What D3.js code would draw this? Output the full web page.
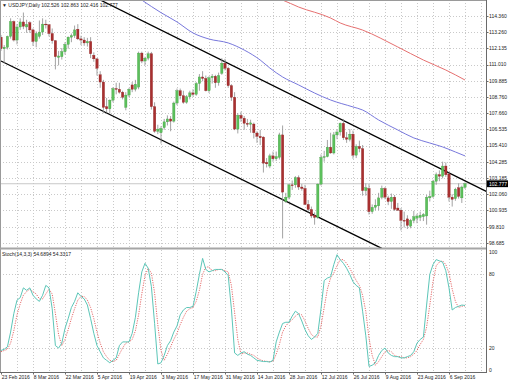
<!DOCTYPE html>
<html><head><meta charset="utf-8">
<script src="https://cdn.jsdelivr.net/npm/d3@7"></script>
<style>html,body{margin:0;padding:0;background:#fff;}svg{display:block;}</style>
</head><body>
<svg id="c" width="510" height="382"></svg>
<script>
// ---------- data ----------
const symbolTitle = "▼ USDJPY,Daily  102.526 102.863 102.416 102.777";
const stochTitle = "Stoch(14,3,3) 54.6894 54.3317";
const lastPrice = 102.777;
const xTickLabels = ["23 Feb 2016","8 Mar 2016","22 Mar 2016","5 Apr 2016","19 Apr 2016","3 May 2016","17 May 2016","31 May 2016","14 Jun 2016","28 Jun 2016","12 Jul 2016","26 Jul 2016","9 Aug 2016","23 Aug 2016","6 Sep 2016"];
const xTickBars = [0,10,20,30,40,50,60,70,80,90,100,110,120,130,140];
const priceTicks = [114.360,113.260,112.135,111.010,109.885,108.760,107.660,106.535,105.410,104.285,103.185,102.060,100.935,99.810,98.685];
const stochTicks = [100,80,20,0];
const stochLevels = [80,20];

const opens = [112.90,112.10,112.20,112.95,113.98,112.70,113.60,113.95,113.60,113.90,
113.40,112.60,112.95,113.25,113.80,113.75,113.15,112.65,111.50,111.55,
111.90,112.40,112.90,113.00,113.45,112.78,112.70,112.50,112.60,111.65,
111.40,110.30,109.80,108.10,107.95,108.55,109.35,109.30,109.10,108.05,
108.90,109.60,109.30,109.45,111.80,111.25,111.45,111.75,108.10,106.40,
106.30,106.65,107.05,107.25,107.10,108.35,109.20,108.85,108.40,108.78,
109.05,108.95,109.70,110.15,110.05,109.20,110.10,110.20,109.75,110.40,
111.10,110.75,109.55,108.75,106.55,107.50,107.30,106.95,106.88,106.90,
106.28,106.05,106.00,104.25,104.00,104.70,104.50,104.60,106.15,101.55,
101.85,102.70,102.70,103.20,102.55,102.45,101.35,101.00,100.60,100.45,
102.75,104.60,104.65,105.30,104.90,106.15,106.35,106.95,105.95,105.85,
106.20,104.75,105.35,105.20,102.30,102.45,100.85,101.15,101.25,101.85,
102.45,101.80,101.55,101.85,101.10,100.95,100.25,100.35,99.85,100.25,
100.40,100.45,100.50,100.55,101.80,101.90,102.95,103.40,103.30,104.00,
103.45,101.85,101.75,102.50,101.80,102.526];
const highs = [113.05,112.35,113.00,114.20,114.05,113.80,114.20,114.60,114.10,114.00,
113.50,113.30,114.05,114.20,114.10,113.80,113.50,112.70,111.95,112.15,
112.55,112.95,113.15,113.70,113.80,113.00,112.90,112.85,112.90,111.85,
111.45,110.55,109.95,108.70,108.60,109.45,109.75,109.75,109.20,109.10,
109.40,109.80,109.95,111.90,111.90,111.55,111.90,111.88,108.40,106.85,
106.75,107.25,107.50,107.45,108.45,109.35,109.35,109.20,108.90,109.20,
109.30,109.80,110.35,110.55,110.25,110.20,110.35,110.30,110.45,111.45,
111.40,110.85,109.65,109.10,107.65,107.75,107.45,107.25,107.20,107.00,
106.40,106.50,106.05,104.55,104.85,105.00,105.00,106.30,106.80,102.15,
102.75,103.00,103.30,103.35,102.75,102.70,101.65,101.20,100.80,102.80,
104.80,105.05,105.80,106.30,106.35,106.50,107.00,107.25,106.35,106.55,
106.45,105.50,105.75,105.45,102.80,102.75,101.35,101.70,102.15,102.65,
102.55,101.95,102.10,102.00,101.45,101.10,100.85,100.60,100.35,100.90,
100.70,100.85,100.75,102.00,102.30,103.05,103.55,103.70,104.30,104.25,
103.55,102.05,102.50,102.80,102.65,102.863];
const lows = [111.95,111.10,112.05,112.80,112.60,112.40,113.40,113.45,113.20,113.20,
112.30,112.20,112.80,113.05,113.50,112.95,112.45,110.67,110.95,111.35,
111.70,112.10,112.55,112.85,112.70,112.35,112.30,112.25,111.45,111.20,
110.25,109.40,107.65,107.70,107.63,108.40,108.95,109.00,108.60,107.85,
108.75,109.10,109.15,109.30,111.10,110.95,111.30,107.90,106.30,106.20,
105.55,106.50,106.80,106.40,107.00,108.20,108.60,108.30,108.30,108.60,
108.80,108.85,109.20,109.85,109.15,109.05,109.70,109.40,109.55,110.30,
110.60,109.40,108.50,106.48,106.25,107.05,106.50,106.70,106.30,105.90,
105.60,105.45,103.55,103.90,103.85,104.30,104.35,104.45,99.00,101.45,
101.70,102.35,102.50,102.35,102.30,101.30,100.80,100.40,99.95,100.35,
102.65,104.30,104.60,104.85,104.80,105.85,106.10,105.80,105.60,105.70,
104.50,104.55,104.95,101.95,101.95,100.65,100.70,100.95,100.95,101.70,
101.70,101.30,101.05,100.90,100.90,99.55,99.75,99.65,99.70,100.05,
100.05,100.20,100.20,99.95,101.55,101.80,102.70,102.95,103.15,103.25,
101.55,101.20,101.60,101.75,101.45,102.416];
const closes = [112.10,112.20,112.95,113.98,112.70,113.60,113.95,113.65,113.78,113.40,
112.60,113.15,113.25,113.80,113.75,113.15,112.65,111.55,111.60,111.90,
112.40,112.90,113.00,113.40,112.78,112.70,112.50,112.60,111.75,111.40,
110.75,109.80,108.05,107.95,108.55,109.35,109.30,109.10,108.75,108.90,
109.30,109.30,109.65,111.80,111.25,111.45,111.75,108.10,106.40,106.55,
106.60,107.05,107.25,107.10,108.35,109.20,108.85,108.40,108.78,109.05,
108.95,109.70,110.15,110.05,109.20,110.10,110.20,109.75,110.25,111.10,
110.75,109.55,108.75,106.55,107.50,107.30,106.95,106.88,106.98,106.30,
106.05,105.95,104.20,104.15,104.70,104.50,104.65,106.15,102.20,101.85,
102.70,102.65,103.20,102.55,102.45,101.35,101.00,100.55,100.45,102.75,
104.60,104.65,105.30,104.90,106.15,106.35,106.95,105.95,105.85,106.20,
104.75,105.35,105.20,102.30,102.50,100.85,101.15,101.30,101.80,102.45,
101.85,101.55,101.85,101.00,100.95,100.25,100.20,99.90,100.25,100.50,
100.55,100.60,100.65,101.85,101.90,102.95,103.40,103.30,104.00,103.40,
101.85,101.70,102.40,101.90,102.55,102.777];

// moving averages read at sampled bars
const blueMaBars = [40,44,50,55,60,65,71,76,81,84,88,93,98,103,110,113,118,124,129,134,138,142,145];
const blueMaValues = [116.05,115.46,114.59,113.95,113.19,112.77,112.50,112.01,111.32,110.77,110.15,109.60,109.04,108.56,108.08,107.87,107.18,106.49,105.94,105.59,105.32,104.97,104.70];
const redMaBars = [84,88,93,103,106,113,124,132,139,145];
const redMaValues = [115.75,115.46,114.98,114.22,113.88,113.39,112.22,111.32,110.63,109.94];

// channel trend lines (bar, price)
const upperChannelBars = [31,152];
const upperChannelPrices = [115.47,102.21];
const lowerChannelBars = [0,119];
const lowerChannelPrices = [111.25,98.31];

// stochastic %K and %D
const stochK = [18,19,21,33,48,59,61,69,67,69,
63,60,58,63,71,69,52,22,20,24,
36,44,53,58,65,62,60,55,44,32,
22,17,12,10,8,10,12,22,25,25,
25,32,45,65,82,89,85,70,40,7,
8,14,22,26,33,38,47,51,53,53,
54,66,80,93,84,82,83,84,84,84,
82,79,52,16,14,16,17,15,14,12,
10,9.5,9,9,8.6,10,25,33,40,41,
41,46,50,48,42,35,30,27,29,32,
52,75,77,78,88,96,92,89,85,80,
74,71,69,50,30,5,6,8,14,18,
20,16,14,13,13,12,12,13,14,17,
24,27,29,55,80,88,92,91,90,83,
69,51,53,54,55,54.69];
const stochD = [17,18,19,24,34,47,56,63,66,68,
66,64,60,60,64,68,64,48,31,22,
27,35,44,52,59,62,62,59,53,44,
33,24,17,13,10,9,10,15,20,24,
25,27,34,47,64,79,85,81,65,39,
18,10,15,21,27,32,39,45,50,52,
53,58,67,80,86,86,83,83,84,84,
83,82,71,49,27,15,16,16,15,14,
12,10.5,9.5,9.2,8.9,9.2,15,23,33,38,
41,43,46,48,47,42,36,31,29,29,
38,53,68,77,81,87,92,92,89,85,
80,75,71,63,50,28,14,6,9,13,
17,18,17,14,13,13,12,12,13,15,
18,23,27,37,55,74,87,90,91,88,
81,68,58,53,54,54.33];

// ---------- layout ----------
const svg = d3.select("#c");
const plotR = 486;
const mainTop = 0, mainBot = 248;
const stTop = 250, stBot = 372;
const font = "'Liberation Sans', Arial, sans-serif";
const fs = 5;

const x = d3.scaleLinear().domain([0,150]).range([1,481]);
const y = d3.scaleLinear().domain([98.685,114.36]).range([243,16]);
const ys = d3.scaleLinear().domain([0,100]).range([372.6,249.8]);

const defs = svg.append("defs");
defs.append("clipPath").attr("id","cm").append("rect").attr("x",0).attr("y",mainTop).attr("width",plotR).attr("height",mainBot-mainTop);
defs.append("clipPath").attr("id","cs").append("rect").attr("x",0).attr("y",stTop).attr("width",plotR).attr("height",stBot-stTop);

// grids
const gridC = "#c9c9c9";
const vGrid = d3.range(5,151,5);
const gm = svg.append("g").attr("clip-path","url(#cm)");
gm.selectAll("line.v").data(vGrid).join("line")
  .attr("x1",d=>Math.round(x(d))+0.5).attr("x2",d=>Math.round(x(d))+0.5)
  .attr("y1",mainTop).attr("y2",mainBot).attr("stroke",gridC).attr("stroke-dasharray","1,2");
gm.selectAll("line.h").data(priceTicks).join("line")
  .attr("x1",0).attr("x2",plotR).attr("y1",d=>Math.round(y(d))+0.5).attr("y2",d=>Math.round(y(d))+0.5)
  .attr("stroke",gridC).attr("stroke-dasharray","1,2");
const gs = svg.append("g").attr("clip-path","url(#cs)");
gs.selectAll("line.v").data(vGrid).join("line")
  .attr("x1",d=>Math.round(x(d))+0.5).attr("x2",d=>Math.round(x(d))+0.5)
  .attr("y1",stTop).attr("y2",stBot).attr("stroke",gridC).attr("stroke-dasharray","1,2");
gs.selectAll("line.h").data(stochLevels).join("line")
  .attr("x1",0).attr("x2",plotR).attr("y1",d=>Math.round(ys(d))+0.5).attr("y2",d=>Math.round(ys(d))+0.5)
  .attr("stroke",gridC).attr("stroke-dasharray","1,2");

// bid line
gm.append("line").attr("x1",0).attr("x2",plotR)
  .attr("y1",y(lastPrice)).attr("y2",y(lastPrice)).attr("stroke","#c8c8c8").attr("stroke-width",1);

// moving averages
const maLine = d3.line().x(d=>x(d[0])).y(d=>y(d[1])).curve(d3.curveMonotoneX);
gm.append("path").attr("d",maLine(d3.zip(blueMaBars,blueMaValues)))
  .attr("fill","none").attr("stroke","#7878dc").attr("stroke-width",1);
gm.append("path").attr("d",maLine(d3.zip(redMaBars,redMaValues)))
  .attr("fill","none").attr("stroke","#e67070").attr("stroke-width",1);

// channel lines
const straight = d3.line().x(d=>x(d[0])).y(d=>y(d[1]));
gm.append("path").attr("d",straight(d3.zip(upperChannelBars,upperChannelPrices)))
  .attr("fill","none").attr("stroke","#000").attr("stroke-width",1.3);
gm.append("path").attr("d",straight(d3.zip(lowerChannelBars,lowerChannelPrices)))
  .attr("fill","none").attr("stroke","#000").attr("stroke-width",1.3);

// candles
const bars = d3.range(closes.length).map(i=>({i,o:opens[i],h:highs[i],l:lows[i],c:closes[i]}));
const cg = gm.append("g");
cg.selectAll("line.w").data(bars).join("line")
  .attr("x1",d=>x(d.i)).attr("x2",d=>x(d.i))
  .attr("y1",d=>y(d.h)).attr("y2",d=>y(d.l))
  .attr("stroke","#8c8c8c").attr("stroke-width",0.8);
const bw = 2.4;
cg.selectAll("rect.b").data(bars).join("rect")
  .attr("x",d=>x(d.i)-bw/2).attr("width",bw)
  .attr("y",d=>y(Math.max(d.o,d.c)))
  .attr("height",d=>Math.max(0.8,Math.abs(y(d.o)-y(d.c))))
  .attr("fill",d=>d.c>=d.o?"#5cc05c":"#a83030")
  .attr("stroke",d=>d.c>=d.o?"#3f9a3f":"#8a2020").attr("stroke-width",0.3);

// stochastic
const sLine = d3.line().x((d,i)=>x(i)).y(d=>ys(d));
gs.append("path").attr("d",sLine(stochD)).attr("fill","none")
  .attr("stroke","#e25a5a").attr("stroke-width",0.9).attr("stroke-dasharray","1.2,1.2");
gs.append("path").attr("d",sLine(stochK)).attr("fill","none")
  .attr("stroke","#5cc6b8").attr("stroke-width",1);

// frame
svg.append("line").attr("x1",0).attr("x2",plotR).attr("y1",0.5).attr("y2",0.5).attr("stroke","#9a9a9a");
svg.append("line").attr("x1",0.5).attr("x2",0.5).attr("y1",0).attr("y2",stBot).attr("stroke","#9a9a9a");
svg.append("rect").attr("x",0).attr("y",247.5).attr("width",plotR).attr("height",2).attr("fill","#a6a6a6");
svg.append("line").attr("x1",plotR+0.5).attr("x2",plotR+0.5).attr("y1",0).attr("y2",stBot+1).attr("stroke","#6a6a6a");
svg.append("line").attr("x1",0).attr("x2",plotR+1).attr("y1",stBot+0.5).attr("y2",stBot+0.5).attr("stroke","#6a6a6a");

// price axis
const pa = svg.append("g");
pa.selectAll("line").data(priceTicks).join("line")
  .attr("x1",plotR).attr("x2",plotR+2.5).attr("y1",d=>Math.round(y(d))+0.5).attr("y2",d=>Math.round(y(d))+0.5).attr("stroke","#6a6a6a");
pa.selectAll("text").data(priceTicks).join("text")
  .attr("x",plotR+3).attr("y",d=>y(d)+1.8).attr("font-family",font).attr("font-size",fs).attr("fill","#222")
  .text(d=>d.toFixed(3));

// stoch axis
const sa = svg.append("g");
sa.selectAll("text").data(stochTicks).join("text")
  .attr("x",plotR+3).attr("y",d=>d===100?ys(d)+4.5:(d===0?ys(d)-0.5:ys(d)+1.8)).attr("font-family",font).attr("font-size",fs).attr("fill","#222")
  .text(d=>d);

// last price tag
svg.append("rect").attr("x",plotR+1).attr("y",y(lastPrice)-3.4).attr("width",21).attr("height",6.8).attr("fill","#000");
svg.append("text").attr("x",plotR+3).attr("y",y(lastPrice)+1.8).attr("font-family",font).attr("font-size",fs).attr("fill","#fff")
  .text(lastPrice.toFixed(3));

// time axis
const ta = svg.append("g");
ta.selectAll("line").data(xTickBars).join("line")
  .attr("x1",d=>Math.round(x(d))+0.5).attr("x2",d=>Math.round(x(d))+0.5).attr("y1",stBot).attr("y2",stBot+2.5).attr("stroke","#6a6a6a");
ta.selectAll("text").data(xTickBars).join("text")
  .attr("x",d=>x(d)+0.8).attr("y",378.5).attr("font-family",font).attr("font-size",fs).attr("fill","#222")
  .text((d,i)=>xTickLabels[i]);

// titles
svg.append("text").attr("x",2).attr("y",6.8).attr("font-family",font).attr("font-size",fs).attr("fill","#222").text(symbolTitle);
svg.append("text").attr("x",2).attr("y",256).attr("font-family",font).attr("font-size",fs).attr("fill","#222").text(stochTitle);
</script>
</body></html>
